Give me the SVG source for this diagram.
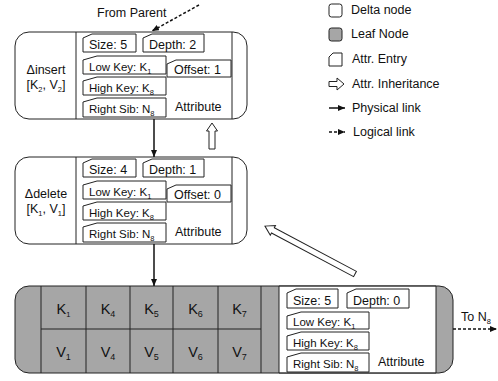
<svg xmlns="http://www.w3.org/2000/svg" width="498" height="381" viewBox="0 0 498 381">
<defs>
<style>
text{font-family:"Liberation Sans",Arial,sans-serif;fill:#111;}
.t{font-size:12.5px;}
.s{font-size:11.5px;}
.c{font-size:14.5px;}
.sub{font-size:7.5px;}
.box{fill:#fff;stroke:#222;stroke-width:1;}
.leaf{fill:#a6a6a6;stroke:#222;stroke-width:1;}
.ln{fill:none;stroke:#222;stroke-width:1;}
.solid{fill:none;stroke:#111;stroke-width:1.5;}
.dash{fill:none;stroke:#111;stroke-width:1.5;stroke-dasharray:3 2;}
.hollow{fill:#fff;stroke:#222;stroke-width:1;}
</style>
<marker id="arr" markerUnits="userSpaceOnUse" markerWidth="7" markerHeight="6" refX="7" refY="3" orient="auto">
<path d="M0,0 L7,3 L0,6 Z" fill="#111"/>
</marker>
</defs>

<!-- Legend -->
<g id="legend">
<rect class="box" x="329" y="4" width="13" height="13" rx="2.5"/>
<text class="t" x="351" y="14">Delta node</text>
<rect class="leaf" x="329" y="28" width="13" height="13" rx="2.5"/>
<text class="t" x="351" y="38">Leaf Node</text>
<path class="box" d="M329,66 V57 L333,53 H342 V66 Z"/>
<text class="t" x="352" y="63">Attr. Entry</text>
<path class="hollow" d="M329,81.5 H337 V78 L344,84 L337,90 V86.5 H329 Z"/>
<text class="t" x="352" y="88">Attr. Inheritance</text>
<line class="solid" x1="329" y1="108" x2="345" y2="108" marker-end="url(#arr)"/>
<text class="t" x="352" y="112">Physical link</text>
<line class="dash" x1="329" y1="132" x2="345" y2="132" marker-end="url(#arr)"/>
<text class="t" x="353" y="136">Logical link</text>
</g>

<!-- Delta insert node -->
<g id="delta-insert">
<rect class="box" x="15" y="32" width="232" height="87" rx="14"/>
<line class="ln" x1="76" y1="32" x2="76" y2="119"/>
<line class="ln" x1="232" y1="32" x2="232" y2="119"/>
<text class="t" x="46" y="74" text-anchor="middle">Δinsert</text>
<text class="t" x="46" y="89" text-anchor="middle">[K<tspan class="sub" dy="3">2</tspan><tspan dy="-3">, V</tspan><tspan class="sub" dy="3">2</tspan><tspan dy="-3">]</tspan></text>
<path class="box" d="M83,52 V38 L92,34 H136 V52 Z"/>
<text class="t" x="89" y="49">Size: 5</text>
<path class="box" d="M143,52 V38 L152,34 H204 V52 Z"/>
<text class="t" x="149" y="49">Depth: 2</text>
<path class="box" d="M83,74 V60 L97,56 H166 V74 Z"/>
<text class="s" x="89" y="71">Low Key: K<tspan class="sub" dy="3">1</tspan></text>
<path class="box" d="M167,77 V64 L176,60 H231 V77 Z"/>
<text class="t" x="174" y="74">Offset: 1</text>
<path class="box" d="M83,95 V81 L97,77 H166 V95 Z"/>
<text class="s" x="89" y="92">High Key: K<tspan class="sub" dy="3">8</tspan></text>
<path class="box" d="M83,117 V102 L97,98 H166 V117 Z"/>
<text class="s" x="89" y="113">Right Sib: N<tspan class="sub" dy="3">8</tspan></text>
<text class="t" x="175" y="111">Attribute</text>
</g>

<!-- Delta delete node -->
<g id="delta-delete">
<rect class="box" x="15" y="157" width="232" height="87" rx="14"/>
<line class="ln" x1="76" y1="157" x2="76" y2="244"/>
<line class="ln" x1="232" y1="157" x2="232" y2="244"/>
<text class="t" x="46" y="198" text-anchor="middle">Δdelete</text>
<text class="t" x="46" y="213" text-anchor="middle">[K<tspan class="sub" dy="3">1</tspan><tspan dy="-3">, V</tspan><tspan class="sub" dy="3">1</tspan><tspan dy="-3">]</tspan></text>
<path class="box" d="M83,177 V163 L92,159 H136 V177 Z"/>
<text class="t" x="89" y="174">Size: 4</text>
<path class="box" d="M143,177 V163 L152,159 H204 V177 Z"/>
<text class="t" x="149" y="174">Depth: 1</text>
<path class="box" d="M83,199 V185 L97,181 H166 V199 Z"/>
<text class="s" x="89" y="196">Low Key: K<tspan class="sub" dy="3">1</tspan></text>
<path class="box" d="M167,202 V189 L176,185 H231 V202 Z"/>
<text class="t" x="174" y="199">Offset: 0</text>
<path class="box" d="M83,220 V206 L97,202 H166 V220 Z"/>
<text class="s" x="89" y="217">High Key: K<tspan class="sub" dy="3">8</tspan></text>
<path class="box" d="M83,242 V227 L97,223 H166 V242 Z"/>
<text class="s" x="89" y="238">Right Sib: N<tspan class="sub" dy="3">8</tspan></text>
<text class="t" x="175" y="236">Attribute</text>
</g>

<!-- Leaf node -->
<g id="leaf-node">
<rect class="leaf" x="15" y="286" width="438" height="87" rx="14"/>
<rect x="279" y="286.5" width="157" height="86" fill="#fff"/>
<line class="ln" x1="279" y1="286" x2="279" y2="373"/>
<line class="ln" x1="436" y1="286" x2="436" y2="373"/>
<line class="ln" x1="279" y1="286" x2="436" y2="286"/>
<line class="ln" x1="279" y1="373" x2="436" y2="373"/>
<line class="ln" x1="41" y1="286" x2="41" y2="373"/>
<line class="ln" x1="86" y1="286" x2="86" y2="373"/>
<line class="ln" x1="130" y1="286" x2="130" y2="373"/>
<line class="ln" x1="173" y1="286" x2="173" y2="373"/>
<line class="ln" x1="218" y1="286" x2="218" y2="373"/>
<line class="ln" x1="261" y1="286" x2="261" y2="373"/>
<line class="ln" x1="41" y1="329" x2="261" y2="329"/>
<text class="c" x="63.5" y="314" text-anchor="middle">K<tspan class="sub" font-size="9" dy="3">1</tspan></text>
<text class="c" x="108" y="314" text-anchor="middle">K<tspan font-size="9" dy="3">4</tspan></text>
<text class="c" x="151.5" y="314" text-anchor="middle">K<tspan font-size="9" dy="3">5</tspan></text>
<text class="c" x="195.5" y="314" text-anchor="middle">K<tspan font-size="9" dy="3">6</tspan></text>
<text class="c" x="239.5" y="314" text-anchor="middle">K<tspan font-size="9" dy="3">7</tspan></text>
<text class="c" x="63.5" y="357" text-anchor="middle">V<tspan font-size="9" dy="3">1</tspan></text>
<text class="c" x="108" y="357" text-anchor="middle">V<tspan font-size="9" dy="3">4</tspan></text>
<text class="c" x="151.5" y="357" text-anchor="middle">V<tspan font-size="9" dy="3">5</tspan></text>
<text class="c" x="195.5" y="357" text-anchor="middle">V<tspan font-size="9" dy="3">6</tspan></text>
<text class="c" x="239.5" y="357" text-anchor="middle">V<tspan font-size="9" dy="3">7</tspan></text>
<path class="box" d="M287,308 V293 L296,289 H338 V308 Z"/>
<text class="t" x="293" y="305">Size: 5</text>
<path class="box" d="M347,308 V293 L356,289 H409 V308 Z"/>
<text class="t" x="353" y="305">Depth: 0</text>
<path class="box" d="M287,329 V316 L301,312 H369 V329 Z"/>
<text class="s" x="293" y="326">Low Key: K<tspan class="sub" dy="3">1</tspan></text>
<path class="box" d="M287,350 V336 L301,332 H369 V350 Z"/>
<text class="s" x="293" y="347">High Key: K<tspan class="sub" dy="3">8</tspan></text>
<path class="box" d="M287,372 V357 L301,353 H369 V372 Z"/>
<text class="s" x="293" y="368">Right Sib: N<tspan class="sub" dy="3">8</tspan></text>
<text class="t" x="378" y="366">Attribute</text>
</g>

<!-- Connectors -->
<g id="connectors">
<text class="t" x="97" y="17">From Parent</text>
<line class="dash" x1="199" y1="5" x2="152" y2="31" marker-end="url(#arr)"/>
<line class="solid" x1="154" y1="119" x2="154" y2="157" marker-end="url(#arr)"/>
<line class="solid" x1="154" y1="244" x2="154" y2="286" marker-end="url(#arr)"/>
<path class="hollow" d="M209,149 V131 H206.5 L212,123 L217.5,131 H215 V149 Z"/>
<path class="hollow" transform="translate(355,274) rotate(208)" d="M0,-3 H93 V-5.5 L102,0 L93,5.5 V3 H0 Z"/>
<line class="dash" x1="453" y1="329" x2="497" y2="329" marker-end="url(#arr)"/>
<text class="t" x="461" y="321">To N<tspan class="sub" dy="3">8</tspan></text>
</g>
</svg>
